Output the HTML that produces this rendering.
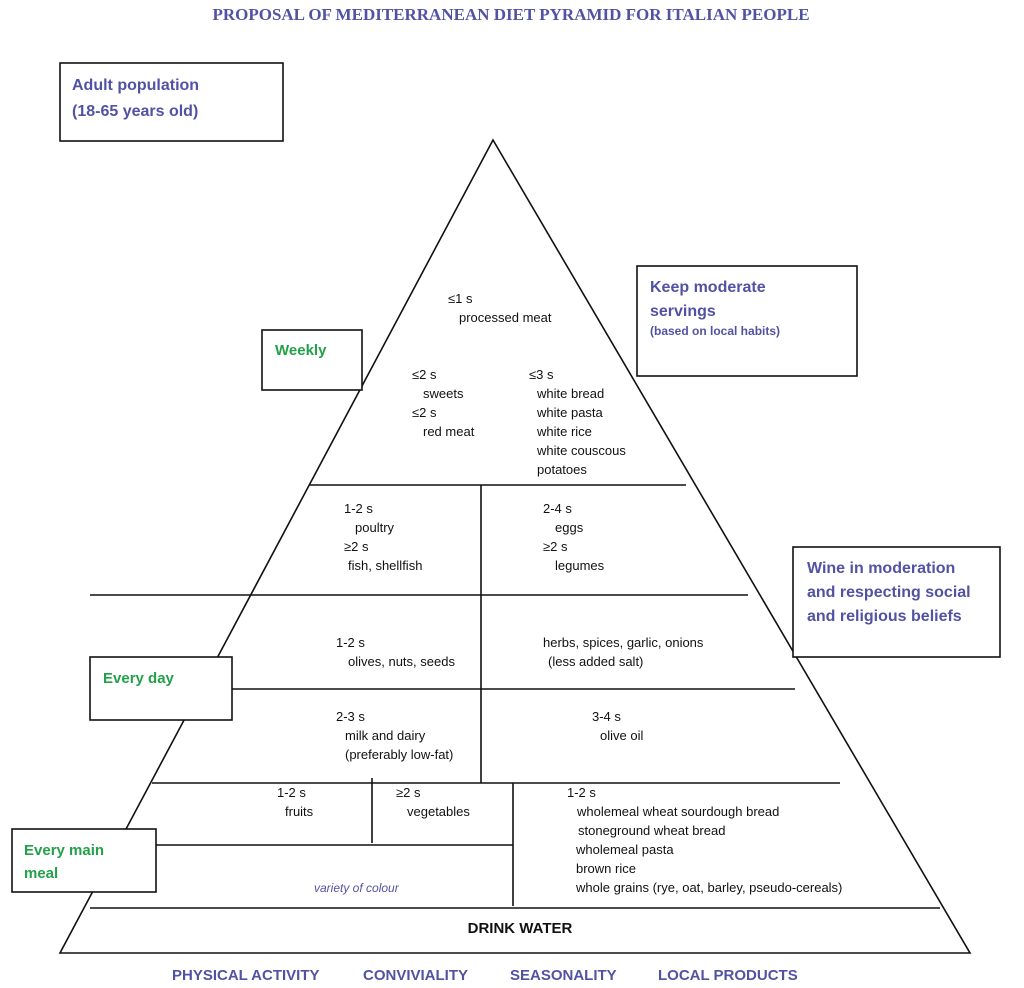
<!DOCTYPE html>
<html><head><meta charset="utf-8"><style>
html,body{margin:0;padding:0;background:#fff;}
svg{display:block;}
text{font-family:"Liberation Sans",sans-serif;font-size:13px;fill:#111;}
.b{fill:#5252a4;font-weight:bold;}
.g{fill:#22a04a;font-weight:bold;font-size:15px;}
</style></head><body>
<svg width="1024" height="988" viewBox="0 0 1024 988" xmlns="http://www.w3.org/2000/svg">
<text x="511" y="20" text-anchor="middle" style="font-family:'Liberation Serif',serif;font-weight:bold;font-size:17px;fill:#5252a4">PROPOSAL OF  MEDITERRANEAN DIET PYRAMID FOR ITALIAN PEOPLE</text>
<g fill="none" stroke="#111" stroke-width="1.6">
<polygon points="493,140 60,953 970,953" fill="#fff"/>
<line x1="310" y1="485" x2="686" y2="485"/>
<line x1="481" y1="485" x2="481" y2="783"/>
<line x1="90" y1="595" x2="748" y2="595"/>
<line x1="232" y1="689" x2="795" y2="689"/>
<line x1="152" y1="783" x2="840" y2="783"/>
<line x1="372" y1="778" x2="372" y2="843"/>
<line x1="513" y1="783" x2="513" y2="906"/>
<line x1="155" y1="845" x2="513" y2="845"/>
<line x1="90" y1="908" x2="940" y2="908"/>
<rect x="60" y="63" width="223" height="78" fill="#fff"/>
<rect x="262" y="330" width="100" height="60" fill="#fff"/>
<rect x="637" y="266" width="220" height="110" fill="#fff"/>
<rect x="793" y="547" width="207" height="110" fill="#fff"/>
<rect x="90" y="657" width="142" height="63" fill="#fff"/>
<rect x="12" y="829" width="144" height="63" fill="#fff"/>
</g>
<text class="b" x="72" y="90" style="font-size:16px">Adult population</text>
<text class="b" x="72" y="116" style="font-size:16px">(18-65 years old)</text>
<text class="b" x="650" y="292" style="font-size:16px">Keep  moderate</text>
<text class="b" x="650" y="316" style="font-size:16px">servings</text>
<text class="b" x="650" y="335" style="font-size:12px">(based on local habits)</text>
<text class="b" x="807" y="573" style="font-size:16px">Wine in moderation</text>
<text class="b" x="807" y="597" style="font-size:16px">and respecting social</text>
<text class="b" x="807" y="621" style="font-size:16px">and religious beliefs</text>
<text class="g" x="275" y="355">Weekly</text>
<text class="g" x="103" y="683">Every day</text>
<text class="g" x="24" y="855">Every main</text>
<text class="g" x="24" y="878">meal</text>
<text x="448" y="303">≤1 s</text>
<text x="459" y="322">processed meat</text>
<text x="412" y="379">≤2 s</text>
<text x="423" y="398">sweets</text>
<text x="412" y="417">≤2 s</text>
<text x="423" y="436">red meat</text>
<text x="529" y="379">≤3 s</text>
<text x="537" y="398">white bread</text>
<text x="537" y="417">white pasta</text>
<text x="537" y="436">white rice</text>
<text x="537" y="455">white couscous</text>
<text x="537" y="474">potatoes</text>
<text x="344" y="513">1-2 s</text>
<text x="355" y="532">poultry</text>
<text x="344" y="551">≥2 s</text>
<text x="348" y="570">fish, shellfish</text>
<text x="543" y="513">2-4 s</text>
<text x="555" y="532">eggs</text>
<text x="543" y="551">≥2 s</text>
<text x="555" y="570">legumes</text>
<text x="336" y="647">1-2 s</text>
<text x="348" y="666">olives, nuts, seeds</text>
<text x="543" y="647">herbs, spices, garlic, onions</text>
<text x="548" y="666">(less added salt)</text>
<text x="336" y="721">2-3 s</text>
<text x="345" y="740">milk and dairy</text>
<text x="345" y="759">(preferably low-fat)</text>
<text x="592" y="721">3-4 s</text>
<text x="600" y="740">olive oil</text>
<text x="277" y="797">1-2 s</text>
<text x="285" y="816">fruits</text>
<text x="396" y="797">≥2 s</text>
<text x="407" y="816">vegetables</text>
<text x="314" y="892" style="fill:#5252a4;font-style:italic;font-size:12px">variety of colour</text>
<text x="567" y="797">1-2 s</text>
<text x="577" y="816">wholemeal wheat sourdough bread</text>
<text x="578" y="835">stoneground  wheat bread</text>
<text x="576" y="854">wholemeal pasta</text>
<text x="576" y="873">brown rice</text>
<text x="576" y="892">whole grains (rye, oat, barley, pseudo-cereals)</text>
<text x="520" y="933" text-anchor="middle" style="font-weight:bold;font-size:15px">DRINK  WATER</text>
<text class="b" x="172" y="980" style="font-size:15px">PHYSICAL  ACTIVITY</text>
<text class="b" x="363" y="980" style="font-size:15px">CONVIVIALITY</text>
<text class="b" x="510" y="980" style="font-size:15px">SEASONALITY</text>
<text class="b" x="658" y="980" style="font-size:15px">LOCAL PRODUCTS</text>
</svg>
</body></html>
